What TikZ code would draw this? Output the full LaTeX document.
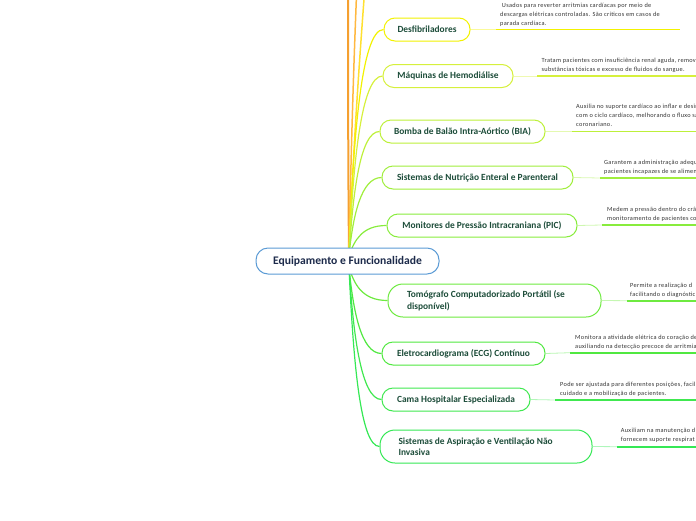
\documentclass[tikz,border=0pt]{standalone}
\usepackage{fontspec}
\setmainfont{Carlito}
\newfontfamily\descfont[LetterSpace=5]{Carlito}
\definecolor{nodetext}{HTML}{1D4D3A}
\definecolor{desctext}{HTML}{333333}
\definecolor{cborder}{HTML}{5B9BD5}
\definecolor{ctext}{HTML}{1C2A4A}
\definecolor{ca}{HTML}{F2F200}
\definecolor{cb}{HTML}{D6F03C}
\definecolor{cc}{HTML}{BDF03A}
\definecolor{cd}{HTML}{A0EE3C}
\definecolor{ce}{HTML}{88EC3C}
\definecolor{cf}{HTML}{6EEA40}
\definecolor{cg}{HTML}{50E840}
\definecolor{ch}{HTML}{40E850}
\definecolor{ci}{HTML}{35E855}
\definecolor{oa}{HTML}{F5A030}
\definecolor{ob}{HTML}{FFB840}
\definecolor{oc}{HTML}{FFE030}
\begin{document}
\begin{tikzpicture}[x=1pt,y=-1pt,
  child/.style={draw, line width=1pt, rounded corners=11pt, fill=white,
    font=\bfseries\fontsize{9.4}{11.5}\selectfont, text=nodetext,
    minimum height=23pt, inner sep=0pt},
  twoline/.style={child, minimum height=33pt, rounded corners=15pt, align=flush left, text width=175pt},
  central/.style={draw=cborder, line width=1pt, rounded corners=12pt, fill=white,
    font=\bfseries\fontsize{11.6}{14}\selectfont, text=ctext,
    minimum width=183pt, minimum height=26pt, inner sep=0pt},
  desc/.style={anchor=base west, align=flush left, inner sep=0pt,
    font=\descfont\fontsize{6.3}{8.8}\selectfont, text=desctext},
  branch/.style={line width=1.2pt},
  pale/.style={line width=0.8pt},
  uline/.style={line width=1.8pt}]
\useasboundingbox (0,0) rectangle (696,520);
\clip (0,0) rectangle (696,520);

% coordinates for branch origins
\coordinate (su) at (349,255);
\coordinate (sd) at (349,267);
\coordinate (ta) at (348,-40);
\coordinate (tb) at (358,-40);
\coordinate (tc) at (367,-40);

% lines to nodes above the visible area
\draw[line width=2pt, oa] (su) .. controls (348,150) and (348,50) .. (ta);
\draw[line width=1.5pt, ob] (su) .. controls (351,150) and (354,50) .. (tb);
\draw[line width=1.5pt, oc] (su) .. controls (353,150) and (360,50) .. (tc);

% child nodes
\node[child, draw=ca, minimum width=86pt] (n1) at (427,29.5) {Desfibriladores};
\node[child, draw=cb, minimum width=130pt] (n2) at (448,76) {Máquinas de Hemodiálise};
\node[child, draw=cc, minimum width=165pt] (n3) at (462.5,131.5) {Bomba de Balão Intra-Aórtico (BIA)};
\node[child, draw=cd, minimum width=191pt] (n4) at (477.5,177.5) {Sistemas de Nutrição Enteral e Parenteral};
\node[child, draw=ce, minimum width=190pt] (n5) at (482,225.5) {Monitores de Pressão Intracraniana (PIC)};
\node[twoline, draw=cf, minimum width=213pt] (n6) at (494.5,300.5) {Tomógrafo Computadorizado Portátil (se\\disponível)};
\node[child, draw=cg, minimum width=163pt] (n7) at (463.5,353.5) {Eletrocardiograma (ECG) Contínuo};
\node[child, draw=ch, minimum width=148pt] (n8) at (456,399.5) {Cama Hospitalar Especializada};
\node[twoline, draw=ci, minimum width=212pt] (n9) at (486,446.5) {Sistemas de Aspiração e Ventilação Não\\Invasiva};

% branches from the centre
\draw[branch, ca] (su) .. controls (353,142) and (361,29.5) .. (n1.west);
\draw[branch, cb] (su) .. controls (353,165) and (361,76) .. (n2.west);
\draw[branch, cc] (su) .. controls (353,193) and (360,131.5) .. (n3.west);
\draw[branch, cd] (su) .. controls (353,216) and (361,177.5) .. (n4.west);
\draw[branch, ce] (su) .. controls (355,240) and (362,225.5) .. (n5.west);
\draw[branch, cf] (sd) .. controls (354,284) and (362,300.5) .. (n6.west);
\draw[branch, cg] (sd) .. controls (353,310) and (361,353.5) .. (n7.west);
\draw[branch, ch] (sd) .. controls (353,333) and (361,399.5) .. (n8.west);
\draw[branch, ci] (sd) .. controls (353,357) and (360,446.5) .. (n9.west);

% central node
\node[central] (c) at (347.5,261) {Equipamento e Funcionalidade};

% underline coordinates
\coordinate (u1) at (496,29.5);   \coordinate (e1) at (680,29.5);
\coordinate (u2) at (537,76);     \coordinate (e2) at (700,76);
\coordinate (u3) at (572,131.5);  \coordinate (e3) at (700,131.5);
\coordinate (u4) at (600,178);    \coordinate (e4) at (700,178);
\coordinate (u5) at (602,225);    \coordinate (e5) at (700,225);
\coordinate (u6) at (627,300.7);  \coordinate (e6) at (700,300.7);
\coordinate (u7) at (570,352.7);  \coordinate (e7) at (700,352.7);
\coordinate (u8) at (555,400);    \coordinate (e8) at (700,400);
\coordinate (u9) at (617,446.7);  \coordinate (e9) at (700,446.7);

\draw[pale, ca!40] (n1.east) -- (u1);  \draw[uline, ca] (u1) -- (e1);
\draw[pale, cb!40] (n2.east) -- (u2);  \draw[uline, cb] (u2) -- (e2);
\draw[pale, cc!40] (n3.east) -- (u3);  \draw[uline, cc] (u3) -- (e3);
\draw[pale, cd!40] (n4.east) -- (u4);  \draw[uline, cd] (u4) -- (e4);
\draw[pale, ce!40] (n5.east) -- (u5);  \draw[uline, ce] (u5) -- (e5);
\draw[pale, cf!40] (n6.east) -- (u6);  \draw[uline, cf] (u6) -- (e6);
\draw[pale, cg!40] (n7.east) -- (u7);  \draw[uline, cg] (u7) -- (e7);
\draw[pale, ch!40] (n8.east) -- (u8);  \draw[uline, ch] (u8) -- (e8);
\draw[pale, ci!40] (n9.east) -- (u9);  \draw[uline, ci] (u9) -- (e9);

% descriptions (anchored at the baseline of their last line)
\node[desc] (d1) at (500,25.5) {\ Usados para reverter arritmias cardíacas por meio de\\descargas elétricas controladas. São críticos em casos de\\parada cardíaca.};
\node[desc] (d2) at (541.5,71) {Tratam pacientes com insuficiência renal aguda, remov\\substâncias tóxicas e excesso de fluidos do sangue.};
\node[desc] (d3) at (576,126) {Auxilia no suporte cardíaco ao inflar e desin\\com o ciclo cardíaco, melhorando o fluxo sa\\coronariano.};
\node[desc] (d4) at (604,173) {Garantem a administração adequ\\pacientes incapazes de se alimen};
\node[desc] (d5) at (607,220) {Medem a pressão dentro do crâ\\monitoramento de pacientes co};
\node[desc] (d6) at (630,296) {Permite a realização d\\facilitando o diagnóstic};
\node[desc] (d7) at (575,348) {Monitora a atividade elétrica do coração de\\auxiliando na detecção precoce de arritmias};
\node[desc] (d8) at (560,395) {Pode ser ajustada para diferentes posições, facili\\cuidado e a mobilização de pacientes.};
\node[desc] (d9) at (620.7,441.5) {Auxiliam na manutenção d\\fornecem suporte respirat};
\end{tikzpicture}
\end{document}
